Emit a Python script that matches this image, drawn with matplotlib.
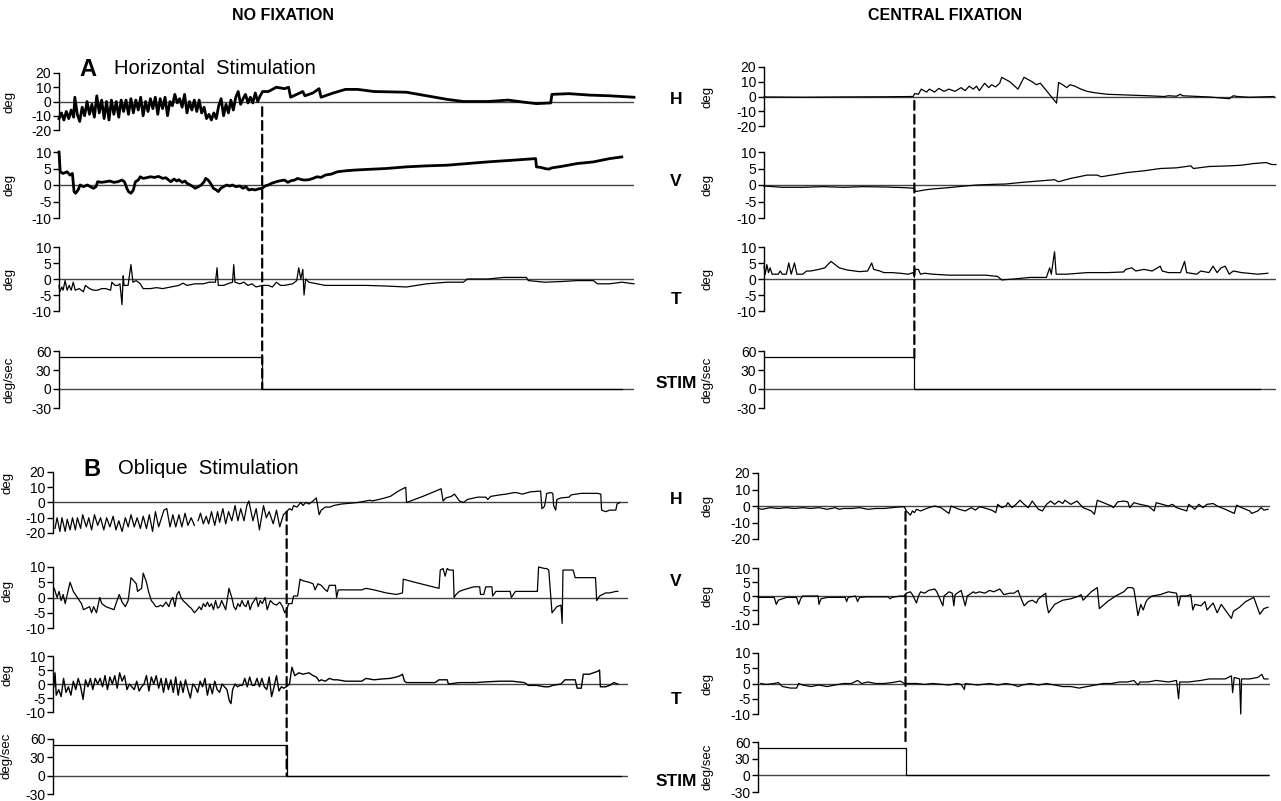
import matplotlib.pyplot as plt
from matplotlib.patches import ConnectionPatch

plt.rcParams['font.family'] = ['Liberation Sans', 'DejaVu Sans']
plt.rcParams['axes.unicode_minus'] = False

# ---- data: (time sample, value) ----
# panel A, no fixation
a_nf_h = [(145, -12), (151, -8), (157, -13), (163, -7), (169, -12), (175, -6), (181, -11), (184, 3),
          (190, -9), (196, -14), (202, -4), (208, -10), (214, 0), (220, -9), (226, -2), (232, -11),
          (238, 4), (244, -8), (250, 1), (256, -12), (262, 0), (268, -13), (274, 1), (280, -9),
          (286, 0), (292, -11), (298, 1), (304, -7), (310, 1), (316, -9), (322, 2), (328, -8),
          (334, 1), (340, -6), (346, 3), (352, -10), (358, 0), (364, -7), (370, 2), (376, -5),
          (382, 3), (388, -9), (394, 2), (400, -5), (406, 3), (412, -10), (418, 0), (424, -3),
          (430, 5), (436, -1), (442, 2), (448, -4), (454, 5), (460, -8), (466, 0), (472, -6),
          (478, 1), (484, -7), (490, 1), (496, -8), (502, -4), (508, -12), (514, -9), (520, -13),
          (526, -8), (532, -12), (538, -3), (544, 2), (550, -10), (556, -2), (562, -8), (568, 1),
          (574, -6), (580, 3), (586, 7), (592, -2), (598, 2), (604, 5), (610, -1), (616, 3),
          (622, -1), (628, 6), (634, 0), (640, 4), (646, 7), (660, 7), (680, 10), (700, 9),
          (710, 10), (715, 3), (745, 7), (750, 4), (770, 6), (785, 9), (790, 3), (820, 6),
          (850, 8.5), (880, 8.5), (920, 7), (1000, 6.5), (1050, 4), (1100, 1.5), (1140, 0),
          (1200, 0), (1250, 1), (1290, -0.5), (1320, -1.5), (1355, -1), (1358, 5), (1400, 5.5),
          (1450, 4.5), (1500, 4), (1560, 3)]
a_nf_v = [(145, 10), (148, 4), (155, 3.5), (165, 4), (172, 3), (178, 3.5), (182, -2), (186, -2.5),
          (192, -1.5), (197, 0), (205, -0.5), (215, 0), (222, -0.5), (230, -1), (236, -0.5), (240, 1),
          (250, 0.8), (260, 1), (270, 1.2), (280, 0.8), (290, 1), (300, 1.5), (306, 1), (312, -1),
          (316, -2), (322, -2.5), (328, -1.5), (333, 1), (340, 1.5), (345, 2.5), (352, 2), (360, 2.2),
          (370, 2.5), (380, 2.3), (390, 2.6), (400, 2), (408, 2.2), (415, 1.5), (420, 1), (428, 1.8),
          (435, 1.2), (440, 1.6), (448, 0.8), (455, 1.2), (460, 0.5), (468, 0), (475, -0.5), (480, -1),
          (488, -0.5), (495, 0), (502, 1), (506, 2), (512, 1.5), (518, 0.5), (525, -1), (532, -1.5),
          (537, -2), (543, -1), (550, -0.5), (558, 0), (565, -0.3), (572, 0), (580, -0.5), (590, -0.3),
          (598, -1), (605, -0.5), (612, -1.5), (620, -1.3), (628, -1.5), (635, -1.2), (645, -1),
          (652, -0.3), (660, 0), (668, 0.5), (680, 1), (690, 1.3), (700, 1.5), (708, 0.8), (716, 1.3),
          (725, 1.5), (732, 2), (740, 1.7), (748, 1.5), (760, 1.6), (770, 2), (780, 2.5), (790, 2.3),
          (800, 3), (815, 3.3), (830, 4), (850, 4.3), (870, 4.5), (900, 4.7), (950, 5), (1000, 5.5),
          (1050, 5.8), (1100, 6), (1150, 6.5), (1200, 7), (1260, 7.5), (1318, 8), (1320, 5.5),
          (1332, 5.3), (1340, 5), (1350, 4.8), (1358, 5.2), (1380, 5.6), (1420, 6.5), (1460, 7),
          (1500, 8), (1530, 8.5)]
a_nf_t = [(145, -2), (147, -4), (152, -2.5), (155, -3.5), (160, -0.5), (165, -3.5), (170, -2),
          (175, -3.5), (180, -1), (185, -3.5), (195, -3), (205, -4), (210, -2), (220, -3), (230, -3.5),
          (240, -3.5), (250, -3), (260, -3), (272, -3.5), (275, -1), (283, -2), (290, -2), (295, -1.5),
          (300, -8), (303, 1), (305, -2), (315, -2), (322, 4.5), (327, -1), (335, -0.5), (345, -1.5),
          (352, -3), (370, -3), (385, -2.7), (400, -3), (420, -2.5), (440, -2), (450, -1.3), (460, -2),
          (480, -1.5), (500, -1.5), (515, -1), (530, -1), (534, 3.5), (537, -2), (550, -2), (560, -1.5),
          (572, -1), (575, 4.5), (578, -1), (590, -1.5), (600, -1), (610, -2), (620, -1.5), (630, -2.5),
          (645, -2), (660, -2), (670, -2.5), (680, -1), (690, -2), (700, -2), (720, -1.5), (730, -0.5),
          (735, 3.5), (740, 0), (745, 3), (748, -5), (752, 0), (760, -1), (780, -1.5), (800, -2),
          (850, -2), (900, -2), (950, -2.2), (1000, -2.5), (1050, -1.5), (1100, -1), (1140, -1),
          (1150, 0), (1200, 0), (1240, 0.5), (1270, 0.5), (1295, 0.5), (1300, -0.5), (1340, -1),
          (1380, -0.8), (1420, -0.5), (1460, -0.5), (1470, -1.5), (1500, -1.5), (1530, -1), (1560, -1.5)]
a_nf_stim = [(145, 50), (645, 50), (645, 0), (1530, 0)]

# panel A, central fixation
a_cf_h = [(305, -0.3), (400, -0.5), (500, -0.3), (600, -0.2), (672, 0), (676, 2), (685, 1.5), (692, 5),
          (705, 3), (712, 5), (725, 3), (735, 5.5), (748, 3.5), (760, 5), (775, 3.5), (790, 6), (800, 4),
          (810, 7), (820, 5), (828, 7), (835, 4), (848, 9), (858, 6), (865, 8), (875, 6.5), (885, 9),
          (890, 13), (910, 10), (930, 5), (945, 13), (965, 10), (975, 8), (985, 9), (1000, 4),
          (1025, -4.5), (1030, 9.5), (1040, 8), (1050, 6), (1058, 8), (1070, 7), (1085, 5), (1100, 3.5),
          (1120, 2.5), (1150, 1.5), (1200, 1), (1250, 0.5), (1290, 0), (1300, 0.5), (1320, 0.2),
          (1330, 1.5), (1335, 0.5), (1400, -0.3), (1450, -1.5), (1460, 0.5), (1470, 0), (1500, -0.5),
          (1560, 0)]
a_cf_v = [(305, -0.3), (350, -0.7), (400, -0.7), (450, -0.5), (500, -0.7), (550, -0.5), (600, -0.6),
          (650, -0.8), (675, -1), (678, -2), (700, -1.5), (720, -1.2), (760, -0.8), (800, -0.3), (830, 0),
          (870, 0.2), (900, 0.3), (940, 0.8), (980, 1.2), (1020, 1.6), (1030, 1), (1060, 2), (1080, 2.5),
          (1100, 3), (1125, 3), (1135, 2.5), (1160, 3), (1200, 3.8), (1240, 4.3), (1280, 5), (1320, 5.2),
          (1355, 5.8), (1362, 5), (1400, 5.6), (1450, 5.8), (1480, 6), (1510, 6.5), (1540, 6.8),
          (1555, 6.2), (1565, 6.2)]
a_cf_t = [(305, 4), (308, 1.5), (312, 4.5), (316, 2), (320, 3.5), (325, 1.5), (340, 1.5), (345, 2.5),
          (350, 1.5), (360, 1.5), (366, 5), (372, 1.5), (380, 5), (386, 1.5), (400, 1.5), (410, 2.5),
          (420, 2.5), (440, 3), (455, 3.5), (462, 4.5), (470, 5.5), (480, 4.5), (490, 3.5), (510, 2.8),
          (540, 2.3), (560, 2.5), (570, 5), (575, 3), (590, 2.5), (600, 2), (620, 2), (640, 1.8),
          (660, 1.5), (672, 2), (675, 0.5), (677, 3), (685, 3), (690, 1.5), (700, 1.8), (720, 1.5),
          (760, 1.2), (800, 1.2), (850, 1.2), (880, 0.8), (890, -0.3), (920, 0), (960, 0.5), (1000, 0.5),
          (1008, 3.5), (1012, 1.5), (1020, 8.5), (1024, 1.5), (1050, 1.5), (1100, 2), (1150, 2),
          (1190, 2.2), (1195, 3), (1210, 3.5), (1220, 2.5), (1240, 3), (1260, 2.5), (1280, 4),
          (1285, 2.5), (1300, 2), (1330, 2), (1340, 5.5), (1345, 2), (1370, 1.5), (1380, 2.5), (1400, 2),
          (1410, 4), (1420, 2), (1430, 3.5), (1440, 4), (1450, 1.5), (1460, 2.5), (1480, 2), (1520, 1.5),
          (1545, 1.8)]
a_cf_stim = [(305, 50), (675, 50), (675, 0), (1525, 0)]

# panel B, no fixation
b_nf_h = [(135, -17), (140, -10), (147, -19), (152, -10), (160, -19), (165, -11), (172, -18), (178, -10),
          (185, -18), (190, -10), (198, -17), (203, -8), (212, -16), (218, -10), (225, -18), (232, -8),
          (240, -15), (247, -10), (255, -18), (262, -10), (270, -16), (278, -9), (285, -18), (292, -12),
          (300, -19), (308, -10), (315, -16), (322, -8), (330, -16), (337, -10), (345, -17), (352, -9),
          (360, -17), (367, -8), (375, -19), (382, -6), (390, -16), (397, -10), (403, -5), (410, -4),
          (418, -16), (425, -8), (432, -16), (440, -8), (447, -16), (455, -7), (462, -15), (470, -10),
          (478, -15), (483, float('nan')), (487, -12), (493, -7), (500, -14), (507, -9), (513, -14),
          (520, -6), (528, -15), (535, -6), (540, -13), (548, -4), (555, -14), (562, -6), (570, -12),
          (578, -2), (585, -12), (592, -4), (600, -12), (607, -2), (612, 1), (622, -12), (630, -4),
          (638, -18), (648, -2), (655, -10), (662, -6), (672, -14), (680, -5), (688, -16), (697, -8),
          (705, -6), (712, -4), (718, -5), (722, -2), (730, -3), (740, 0), (745, -2), (752, 0), (760, -1),
          (770, 1), (778, 3), (785, -8), (790, -5), (800, -3), (812, -3), (820, -2), (840, -1),
          (860, -0.5), (880, 0), (900, 1), (910, 1.5), (915, 1), (940, 2.5), (960, 4), (980, 7.5),
          (998, 10), (1000, 0), (1040, 4), (1085, 9), (1090, 1), (1097, 3), (1110, 4), (1118, 5.5),
          (1125, 3), (1130, 1), (1140, 0), (1150, 2), (1175, 3.5), (1195, 3.5), (1200, 2), (1207, 4),
          (1230, 5), (1245, 5.5), (1265, 6.5), (1270, 6.5), (1285, 5.5), (1305, 7), (1330, 7.5),
          (1333, -4), (1338, -3), (1340, -2), (1345, 6), (1355, 6.5), (1360, 6), (1362, -2), (1367, -5),
          (1370, 2), (1380, 3), (1400, 3.5), (1405, 5), (1430, 6), (1470, 6), (1478, 5.5), (1480, -5),
          (1490, -6), (1500, -5), (1515, -5), (1518, -1), (1525, 0)]
b_nf_v = [(133, 3), (140, 0), (145, 2), (150, -1), (155, 1), (160, -2), (172, 5), (180, 2), (190, 0),
          (200, -2), (205, -4), (220, -3), (225, -5), (230, -3), (237, -5), (245, 0), (250, -2), (260, -3),
          (270, -3.5), (280, -4), (285, -2), (293, 1), (300, -1.5), (308, -3), (315, -1), (322, 6.5),
          (335, 4.5), (338, 2), (348, 3), (352, 8), (360, 5), (365, 2), (372, -1), (378, -2), (383, -3),
          (388, -3), (395, -2.5), (400, -3), (408, -1.5), (415, -3), (420, -1), (425, 0), (430, -3),
          (435, 1), (440, 2), (445, 0), (450, -1), (458, -2), (465, -3), (470, -3.5), (478, -5), (485, -4),
          (490, -3), (495, -4), (500, -2), (505, -3), (510, -1.5), (515, -3), (520, -2), (525, -4),
          (530, -1), (535, -3.5), (540, -3), (545, -1), (555, -4), (563, 3), (570, 0), (575, -3),
          (580, -4), (585, -2), (590, -3), (595, -1), (600, -2.5), (605, -3), (610, -1), (615, -4),
          (620, -2), (630, 0), (635, -3), (640, -1), (645, -2), (652, 0), (657, -4), (665, -1), (672, -2),
          (680, -2.5), (688, -1.5), (695, -3), (700, -5), (705, -4), (710, -2), (718, -2), (722, 0.5),
          (732, 0.5), (738, 6), (745, 5.5), (760, 5), (770, 4.5), (775, 2.5), (782, 4.5), (790, 4),
          (800, 2.5), (805, 2), (810, 4), (825, 4), (828, 0), (832, 2.5), (860, 2.5), (890, 2.5),
          (900, 3), (920, 2.5), (950, 1.5), (975, 1), (990, 1.5), (992, 6), (1020, 5), (1050, 4),
          (1080, 3), (1083, 9), (1090, 9.5), (1095, 7), (1100, 9.5), (1105, 9), (1115, 9), (1117, 0),
          (1122, 1), (1130, 2), (1140, 2.5), (1165, 3.5), (1180, 3.5), (1182, 1), (1190, 1), (1195, 3.5),
          (1210, 3.5), (1212, 0.5), (1220, 2), (1255, 2), (1258, 0), (1268, 2), (1300, 2), (1322, 2),
          (1325, 10), (1340, 9.5), (1345, 9.5), (1350, 9), (1358, -5), (1370, -3), (1380, -2.5),
          (1383, -8.5), (1385, 9), (1400, 9), (1410, 9), (1415, 6.5), (1430, 6.5), (1465, 6.5),
          (1468, -1), (1475, 0.5), (1490, 1.5), (1500, 1.5), (1515, 2), (1520, 2)]
b_nf_t = [(132, -1), (135, 4), (138, -4), (144, -2), (150, -4.5), (156, 2), (162, -3), (168, -1),
          (174, -4), (180, 1), (186, -2), (192, 2), (198, -1), (204, -5.5), (210, 1.5), (216, -1),
          (222, 2), (228, -2), (234, 2), (240, 0), (246, 2), (252, -1), (258, 3), (264, -2), (270, 2.5),
          (276, 0), (282, 3), (288, -1.5), (294, 4), (300, 1), (306, 3), (312, -2), (318, 0), (324, -1),
          (330, -2), (336, 1), (342, -2.5), (348, -1), (354, 0), (360, 3), (366, -2.5), (372, 2.5),
          (378, 0), (384, 3), (390, -1.5), (396, 2), (402, -3), (408, 2), (414, -2), (420, 1.5),
          (426, -3), (432, 2.5), (438, -4), (444, 1), (450, -3), (456, 1.5), (462, -2), (468, -5),
          (474, 0), (480, -1), (486, -3), (492, 1), (498, -1), (504, 2), (510, -4), (516, 0), (522, -3.5),
          (528, 1), (534, -2), (540, -3), (546, 0), (552, -1), (558, -2), (564, -6), (568, -7), (572, -2),
          (578, 0), (584, -1), (590, -0.5), (596, -0.5), (602, 2), (608, -1), (614, 2.5), (620, -0.5),
          (626, -0.5), (632, 2), (638, -1), (644, 2), (650, -1), (656, -2), (662, 2.5), (668, -4.5),
          (674, -1), (680, 3), (686, -2.5), (692, -1), (698, -1.5), (704, -1), (712, 0), (718, 6),
          (725, 3), (735, 4), (745, 3.5), (760, 4), (770, 3), (778, 2.5), (785, 1), (790, 1.5), (800, 1),
          (810, 2), (820, 1.5), (830, 1.5), (850, 1), (870, 1), (890, 1), (900, 2), (920, 1.5),
          (940, 1.8), (960, 2), (975, 2.5), (985, 3), (990, 3.5), (995, 1), (1000, 0.5), (1020, 0.5),
          (1050, 0.5), (1070, 0.5), (1080, 1.5), (1100, 1.5), (1103, 0), (1130, 0.5), (1170, 0.5),
          (1200, 0.8), (1230, 1), (1260, 1), (1290, 0.5), (1300, -0.5), (1320, -0.5), (1340, -1),
          (1350, -1), (1360, -0.5), (1380, 0), (1390, 1.5), (1400, 1.5), (1415, 1.5), (1420, -1.5),
          (1430, -1.5), (1435, 3.5), (1450, 3.5), (1470, 4.5), (1475, 5), (1477, -1), (1490, -1),
          (1500, -0.5), (1510, 0.5), (1520, 0)]
b_nf_stim = [(130, 50), (705, 50), (705, 0), (1528, 0)]

# panel B, central fixation
b_cf_h = [(290, -1.5), (300, -2), (320, -1), (340, -1.5), (360, -1), (380, -1.5), (400, -1), (420, -1.5),
          (440, -1), (460, -2), (480, -1), (490, -2), (500, -1.5), (520, -1.5), (540, -1), (560, -2),
          (580, -1.5), (600, -1.5), (620, -1), (640, -0.5), (650, -0.5), (655, -3), (665, -5.5), (670, -3),
          (675, -4), (680, -2), (690, -3), (700, -2), (710, -1), (725, 0), (740, -1), (760, -4.5), (765, 0),
          (775, -1), (785, -2), (800, -3), (815, -1), (825, -2.5), (835, -0.5), (845, -1), (865, -2.5),
          (875, -4), (880, 1), (890, -1), (900, 0), (905, 2), (915, -1), (925, 1), (935, 3.5), (945, 1),
          (955, -1), (965, 3), (980, -2), (990, -3), (1000, 1), (1010, 3), (1020, 1), (1030, 3),
          (1040, 1.5), (1045, 3.5), (1060, 1), (1075, 3), (1090, -1), (1110, -3), (1118, -5), (1125, 3.5),
          (1140, 2), (1160, 0), (1165, -1), (1175, 2.5), (1190, 3), (1200, 2.5), (1205, -1), (1215, 2),
          (1230, 1), (1250, 0), (1265, -3), (1270, 2), (1285, 1), (1300, 0), (1310, 1), (1320, -1),
          (1345, -3), (1350, 1), (1365, -2), (1375, 1), (1385, -1), (1395, 1), (1410, 1.5), (1420, 0),
          (1440, -2), (1462, -4.5), (1468, 0.5), (1480, -1), (1500, -3), (1505, -4.5), (1520, -3),
          (1528, -1), (1535, -2.5), (1545, -2)]
b_cf_v = [(290, -0.5), (300, -0.5), (320, -0.5), (330, -0.5), (335, -3), (340, -1.5), (360, -0.5),
          (385, -0.5), (390, -3), (395, -1), (400, 0), (420, 0), (438, 0), (440, -3), (445, -1),
          (460, -0.5), (480, -0.5), (505, -0.5), (508, -2), (512, -0.5), (530, 0), (535, -2), (540, -0.5),
          (560, -0.3), (590, -0.3), (610, -0.3), (615, -1), (620, -0.5), (640, 0), (650, 0), (655, 1),
          (665, 1.5), (670, 0.5), (680, -2.5), (685, 0), (690, 1.5), (700, 1), (710, 2), (725, 2.5),
          (730, 1.5), (745, -3.5), (748, 0), (760, 1.5), (768, 1), (772, -3.5), (775, 0.5), (790, 2),
          (800, -3.5), (805, 0), (820, 1.5), (825, 1), (835, 1.5), (848, 1), (860, 2), (870, 1.5),
          (885, 2.5), (895, 0.5), (910, 1), (920, 1), (930, 2), (935, 0), (945, -3.5), (955, -2),
          (965, -1.5), (975, -2.5), (980, -1), (998, 1), (1000, -2.5), (1005, -6), (1020, -3), (1040, -1.5),
          (1060, -1), (1080, 0), (1085, 0.5), (1090, -1.5), (1100, 0), (1110, 1.5), (1125, 3), (1130, -4.5),
          (1150, -2), (1170, 0), (1190, 1.5), (1200, 3), (1210, 3), (1215, 2.5), (1220, -2), (1225, -7),
          (1232, -3), (1238, -5), (1245, -2), (1250, -1), (1260, 0), (1280, 0.5), (1300, 1.5), (1320, 1),
          (1325, -3.5), (1330, 0), (1345, 0), (1355, 0.5), (1360, -5), (1365, -3), (1380, -3.5),
          (1390, -2), (1395, -5), (1410, -2.5), (1420, -6), (1430, -3), (1440, -5), (1455, -8),
          (1460, -5.5), (1475, -4), (1490, -2), (1510, -0.5), (1525, -6.5), (1535, -4.5), (1545, -4)]
b_cf_t = [(297, 0), (310, -0.3), (330, 0), (340, 0.3), (350, -1), (370, -1.5), (385, -1.5), (390, 0),
          (400, -0.5), (420, -1), (440, -0.5), (460, -1), (480, -0.5), (500, 0), (520, 0), (535, 1),
          (545, 0), (560, 0.5), (580, 0), (600, 0), (620, 0.3), (640, 0.8), (650, 0), (680, 0),
          (700, -0.3), (720, 0), (760, -0.5), (780, 0), (790, -0.3), (798, -2), (800, 0), (830, -0.5),
          (860, 0), (880, -0.5), (900, 0), (920, -0.5), (930, -1), (940, -0.5), (960, 0), (980, -0.5),
          (1000, 0), (1020, -0.5), (1040, -1), (1060, -1), (1080, -1.5), (1100, -1), (1120, -0.5),
          (1140, 0), (1160, 0), (1180, 0.5), (1200, 0.5), (1215, 1), (1225, -0.5), (1230, 0.5),
          (1250, 0.5), (1270, 1), (1300, 0.5), (1320, 1), (1325, -5), (1328, 0.5), (1350, 0.5),
          (1380, 1), (1400, 1.5), (1420, 1.5), (1440, 1.5), (1455, 2.5), (1458, -3), (1462, 2),
          (1475, 1.5), (1478, -10), (1480, 1.5), (1500, 1.5), (1520, 2), (1530, 3), (1535, 1.5),
          (1545, 1.5)]
b_cf_stim = [(293, 50), (653, 50), (653, 0), (1545, 0)]

W, H = 1281, 801
fig = plt.figure(figsize=(W / 100, H / 100), dpi=100)

H_TICKS = [-20, -10, 0, 10, 20]
D_TICKS = [-10, -5, 0, 5, 10]
S_TICKS = [-30, 0, 30, 60]


def panel(x0, x1, ytop, ybot, xlim, ticks, data, lw=0.9, label='deg', lab_x=15, lab_y=None):
    ax = fig.add_axes([x0 / W, 1 - ybot / H, (x1 - x0) / W, (ybot - ytop) / H])
    ax.patch.set_visible(False)
    t, v = zip(*data)
    ax.axhline(0, color='#444444', lw=1.0, zorder=1)
    ax.plot(t, v, color='black', lw=lw, zorder=2, clip_on=False)
    ax.set_xlim(*xlim)
    ax.set_ylim(ticks[0], ticks[-1])
    ax.set_yticks(ticks)
    ax.set_xticks([])
    for s in ['top', 'right', 'bottom']:
        ax.spines[s].set_visible(False)
    ax.spines['left'].set_linewidth(1.0)
    ax.tick_params(axis='y', direction='out', length=4, width=1, labelsize=10, pad=1.5)
    ax.set_ylabel(label, fontsize=9.5)
    if lab_y is None:
        lab_y = (ytop + ybot) / 2
    ax.yaxis.set_label_coords((lab_x - x0) / (x1 - x0), (ybot - lab_y) / (ybot - ytop))
    return ax


def dashed(ax_top, ax_bot, tx, y_top, y_bot):
    con = ConnectionPatch(xyA=(tx, y_top), coordsA=ax_top.transData,
                          xyB=(tx, y_bot), coordsB=ax_bot.transData,
                          color='black', lw=1.6, linestyle=(0, (4, 2.2)))
    fig.add_artist(con)


# panel A, left
xl = (145, 1560)
ah = panel(59, 634, 73, 130, xl, H_TICKS, a_nf_h, lw=2.0)
panel(59, 634, 152, 218, xl, D_TICKS, a_nf_v, lw=2.0)
panel(59, 634, 247, 311, xl, D_TICKS, a_nf_t)
as_ = panel(59, 634, 351, 408, xl, S_TICKS, a_nf_stim, label='deg/sec', lab_x=16)
dashed(ah, as_, 645, -4, 0)

# panel A, right
xr = (305, 1565)
rh = panel(764, 1276, 67, 126, xr, H_TICKS, a_cf_h, lab_x=714)
panel(764, 1276, 152, 218, xr, D_TICKS, a_cf_v, lab_x=714)
panel(764, 1276, 247, 311, xr, D_TICKS, a_cf_t, lab_x=714)
rs = panel(764, 1276, 351, 408, xr, S_TICKS, a_cf_stim, label='deg/sec', lab_x=714)
dashed(rh, rs, 675, -3, 42)

# panel B, left
xl = (130, 1545)
bh = panel(53, 628, 472, 533, xl, H_TICKS, b_nf_h, lab_x=13, lab_y=483)
panel(53, 628, 567, 628, xl, D_TICKS, b_nf_v, lab_x=13, lab_y=591)
panel(53, 628, 656, 712, xl, D_TICKS, b_nf_t, lw=1.0, lab_x=13, lab_y=675)
bs = panel(53, 628, 739, 794, xl, S_TICKS, b_nf_stim, label='deg/sec', lab_x=13, lab_y=756)
dashed(bh, bs, 705, -6, 0)

# panel B, right
xr = (290, 1550)
ch = panel(758, 1270, 473, 539, xr, H_TICKS, b_cf_h, lab_x=713)
panel(758, 1270, 568, 624, xr, D_TICKS, b_cf_v, lab_x=713)
panel(758, 1270, 653, 714, xr, D_TICKS, b_cf_t, lab_x=713)
cs = panel(758, 1270, 742, 792, xr, S_TICKS, b_cf_stim, label='deg/sec', lab_x=713)
dashed(ch, cs, 653, -3.5, 55)


def ftext(x, y, s, **kw):
    fig.text(x / W, 1 - y / H, s, **kw)


ftext(283, 16, 'NO FIXATION', fontsize=11.5, fontweight='bold', ha='center', va='center')
ftext(945, 16, 'CENTRAL FIXATION', fontsize=11.5, fontweight='bold', ha='center', va='center')

ftext(79, 69, 'A', fontsize=17, fontweight='bold', ha='left', va='center')
ftext(114, 69, 'Horizontal  Stimulation', fontsize=14.5, ha='left', va='center')
ftext(83, 469, 'B', fontsize=17, fontweight='bold', ha='left', va='center')
ftext(118, 469, 'Oblique  Stimulation', fontsize=14.5, ha='left', va='center')

for lab, y in [('H', 99), ('V', 181), ('T', 299), ('STIM', 383),
               ('H', 499), ('V', 581), ('T', 699), ('STIM', 782)]:
    ftext(676, y, lab, fontsize=12.5, fontweight='bold', ha='center', va='center')

fig.savefig('out.png', dpi=100)
